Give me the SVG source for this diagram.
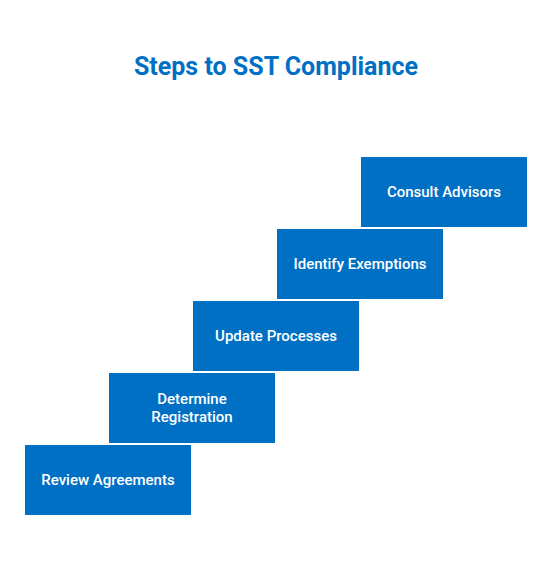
<svg xmlns="http://www.w3.org/2000/svg" width="552" height="564" viewBox="0 0 552 564">
<style>
.box{fill:#0070C5;}
.lbl{font-family:Roboto,"Liberation Sans",sans-serif;font-size:15px;font-weight:500;fill:#FFFFFF;text-anchor:middle;}
.title{font-family:Roboto,"Liberation Sans",sans-serif;font-size:25px;font-weight:700;fill:#0070C5;text-anchor:middle;}
</style>
<rect width="552" height="564" fill="#FFFFFF"/>
<text class="title" x="276" y="75">Steps to SST Compliance</text>
<g id="connectors"></g>
<g id="step1"><rect class="box" x="25" y="445" width="166" height="70"/><text class="lbl" x="108" y="485">Review Agreements</text></g>
<g id="step2"><rect class="box" x="109" y="373" width="166" height="70"/><text class="lbl" x="192" y="404">Determine</text><text class="lbl" x="192" y="422">Registration</text></g>
<g id="step3"><rect class="box" x="193" y="301" width="166" height="70"/><text class="lbl" x="276" y="341">Update Processes</text></g>
<g id="step4"><rect class="box" x="277" y="229" width="166" height="70"/><text class="lbl" x="360" y="269">Identify Exemptions</text></g>
<g id="step5"><rect class="box" x="361" y="157" width="166" height="70"/><text class="lbl" x="444" y="197">Consult Advisors</text></g>
</svg>
